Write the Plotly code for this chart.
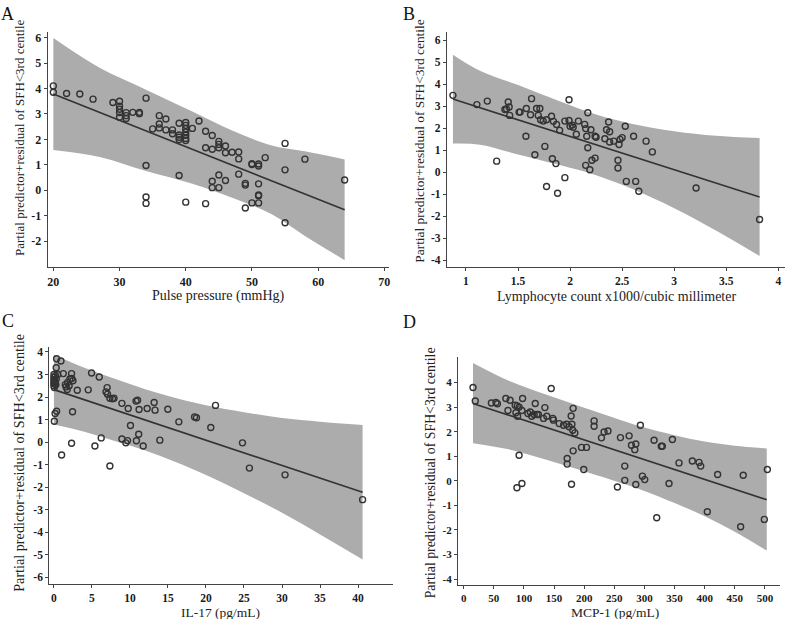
import plotly.graph_objects as go

# ---------------- data ----------------
A_points = [(20,4.1),(20,3.85),(22,3.8),(24,3.78),(26,3.58),(29,3.45),(30,3.5),(30,3.3),(30,3.18),(30,3.05),(30,2.87),
            (31,3.05),(31,2.93),(31,2.82),(32,3.06),(33,3.06),(33,3.01),(34,3.62),(34,0.97),(34,-0.27),(34,-0.52),
            (35,2.41),(36,2.93),(36,2.6),(36,2.45),(37,2.8),(37,2.37),(38,2.37),(38,2.22),(39,2.63),(39,2.17),(39,2.08),
            (39,1.99),(39,0.58),(40,2.66),(40,2.55),(40,2.42),(40,2.29),(40,2.16),(40,2.03),(40,1.95),(40,-0.47),
            (41,2.43),(42,2.72),(43,2.32),(43,1.67),(43,-0.53),(44,2.15),(44,1.61),(44,0.35),(44,0.1),(45,1.92),
            (45,1.8),(45,1.67),(45,0.6),(45,0.1),(46,1.74),(46,1.47),(46,0.38),(47,1.49),(48,1.5),(48,1.23),(48,0.63),
            (49,0.27),(49,0.2),(49,-0.7),(50,1.04),(50,1.01),(50,-0.5),(51,1.03),(51,0.95),(51,0.25),(51,-0.19),
            (51,-0.22),(51,-0.5),(52,1.28),(55,1.84),(55,0.8),(55,-1.28),(58,1.22),(64,0.4)]
A_fit_x = [20, 64]
A_fit_y = [3.78, -0.77]
A_band_x = [20, 27, 34, 41, 47, 53, 58, 64]
A_band_up = [5.98, 4.81, 3.95, 3.09, 2.35, 1.76, 1.53, 1.21]
A_band_lo = [1.58, 1.31, 0.75, 0.25, -0.30, -0.95, -1.80, -2.75]

B_points = [(0.875,3.5),(1.105,3.08),(1.205,3.24),(1.295,0.51),(1.374,2.86),(1.39,2.88),(1.406,3.2),(1.415,2.97),
            (1.42,2.59),(1.51,2.74),(1.52,2.74),(1.576,1.64),(1.58,2.9),(1.63,3.35),(1.62,2.62),(1.662,0.80),
            (1.678,2.9),(1.71,2.9),(1.694,2.59),(1.717,2.39),(1.742,2.33),(1.774,2.39),(1.758,1.18),(1.774,-0.64),
            (1.822,2.55),(1.83,0.62),(1.864,0.40),(1.84,2.32),(1.87,2.18),(1.9,1.91),(1.88,-0.95),(1.95,2.33),
            (1.95,-0.24),(1.99,2.36),(1.99,3.30),(2.0,2.1),(2.02,2.15),(2.03,2.05),(2.06,1.73),(2.08,2.33),
            (2.14,2.18),(2.15,1.99),(2.16,1.64),(2.17,2.71),(2.17,1.12),(2.15,0.32),(2.19,0.12),(2.21,0.55),
            (2.24,0.65),(2.2,1.94),(2.24,1.64),(2.25,1.6),(2.334,1.53),(2.35,1.94),(2.37,2.29),(2.38,1.85),
            (2.38,1.38),(2.42,1.42),(2.46,0.55),(2.46,0.2),(2.47,1.27),(2.48,1.5),(2.5,1.58),(2.53,2.1),
            (2.54,-0.41),(2.61,1.64),(2.63,-0.41),(2.66,-0.86),(2.73,1.42),(2.79,0.93),(3.21,-0.71),(3.82,-2.14)]
B_fit_x = [0.875, 3.82]
B_fit_y = [3.33, -1.12]
B_band_x = [0.875, 1.134, 1.5, 1.9, 2.25, 2.6, 3.0, 3.4, 3.82]
B_band_up = [5.35, 4.62, 3.97, 3.23, 2.63, 2.20, 1.87, 1.66, 1.56]
B_band_lo = [1.31, 1.26, 0.81, 0.33, -0.13, -0.76, -1.63, -2.64, -3.80]

C_points = [(0,3.0),(0,2.88),(0,2.78),(0,2.68),(0,2.6),(0,2.5),(0.05,2.42),(0.1,2.72),(0.15,2.62),(0.2,2.95),
            (0.25,2.55),(0.3,2.8),(0.05,0.93),(0.15,1.27),(0.35,1.37),(0.35,3.7),(0.3,3.3),(0.5,3.0),(0.92,3.6),
            (1.01,-0.57),(1.23,3.04),(1.5,2.55),(1.6,2.45),(1.75,2.34),(1.8,2.65),(2.0,2.5),(2.1,2.8),(2.32,3.04),
            (2.35,2.82),(2.5,2.72),(2.45,1.35),(2.32,-0.05),(3.07,2.3),(4.51,2.32),(4.95,3.07),(5.39,-0.17),
            (5.96,2.89),(6.22,0.19),(7.0,2.42),(6.85,2.23),(7.05,2.13),(7.36,-1.06),(7.36,1.95),(7.7,1.92),
            (7.9,1.95),(8.94,1.72),(9.77,1.49),(8.94,0.14),(9.46,-0.03),(9.68,0.07),(10.07,0.74),(10.8,1.82),
            (11.0,1.86),(11.2,1.45),(11.15,0.35),(10.85,0.06),(11.74,-0.17),(12.26,1.49),(13.18,1.76),(13.3,1.42),
            (13.93,0.09),(14.98,1.46),(16.43,0.9),(18.5,1.12),(18.75,1.08),(20.63,0.65),(21.25,1.63),(24.8,-0.03),
            (25.71,-1.15),(30.4,-1.45),(40.6,-2.55)]
C_fit_x = [0, 40.6]
C_fit_y = [2.33, -2.22]
C_band_x = [0, 4, 8, 12, 16, 20, 25, 30, 35, 40.6]
C_band_up = [3.88, 3.30, 2.81, 2.35, 1.96, 1.64, 1.33, 1.07, 0.91, 0.76]
C_band_lo = [0.78, 0.46, 0.05, -0.37, -0.88, -1.46, -2.27, -3.13, -4.09, -5.20]

D_points = [(15.5,3.8),(19.3,3.25),(46,3.17),(53.6,3.19),(56,3.14),(70,3.35),(77,3.28),(73.5,2.86),(85.6,3.08),
            (89,3.05),(86.7,2.77),(89.5,2.63),(92,3.0),(96.7,2.86),(97.8,3.35),(88.4,-0.28),(92,1.04),(96.7,-0.11),
            (106.6,2.74),(110.5,2.8),(113,2.63),(117,2.7),(118.8,3.15),(121.5,2.7),(124,2.7),(132.6,2.54),
            (134.8,2.98),(138,2.63),(145.3,3.76),(148,2.54),(149,2.47),(158.6,2.33),(165.7,2.26),(171,2.3),
            (175,2.2),(178.4,2.64),(179.6,2.3),(181,2.06),(181.7,2.95),(184.5,1.95),(181.7,1.22),(171.8,0.91),
            (171.8,0.68),(179,-0.14),(195.6,1.36),(203.9,1.36),(199.3,0.46),(216.5,2.44),(216.5,2.22),(228.7,1.75),
            (233,1.99),(239.5,2.03),(255.2,-0.25),(260.2,1.76),(267.4,0.6),(267.4,0.02),(274.6,1.83),(278.5,1.45),
            (284,1.27),(285.7,1.5),(285.7,-0.15),(293.3,2.26),(296.6,0.19),(300.5,0.05),(316,1.65),(320.4,-1.5),
            (328,1.41),(329.7,1.41),(340.8,-0.11),(346.4,1.68),(357.4,0.73),(379.5,0.81),(390.6,0.75),(393.4,0.6),
            (404.4,-1.26),(421.5,0.26),(459.7,-1.87),(464,0.23),(499,-1.57),(504,0.46)]
D_fit_x = [15.5, 503]
D_fit_y = [3.15, -0.77]
D_band_x = [15.5, 77, 140, 200, 260, 300, 350, 400, 450, 503]
D_band_up = [4.80, 4.05, 3.48, 2.97, 2.48, 2.17, 1.86, 1.60, 1.43, 1.32]
D_band_lo = [1.53, 1.27, 0.84, 0.39, -0.08, -0.41, -0.90, -1.44, -2.07, -2.84]

A_xticks = [20, 30, 40, 50, 60, 70]
A_yticks = [-2, -1, 0, 1, 2, 3, 4, 5, 6]
B_xticks = [1, 1.5, 2, 2.5, 3, 3.5, 4]
B_yticks = [-4, -3, -2, -1, 0, 1, 2, 3, 4, 5, 6]
C_xticks = [0, 5, 10, 15, 20, 25, 30, 35, 40]
C_yticks = [-6, -5, -4, -3, -2, -1, 0, 1, 2, 3, 4]
D_xticks = [0, 50, 100, 150, 200, 250, 300, 350, 400, 450, 500]
D_yticks = [-4, -3, -2, -1, 0, 1, 2, 3, 4]

Y_TITLE = "Partial predictor+residual of SFH<3rd centile"
X_TITLES = ["Pulse pressure (mmHg)", "Lymphocyte count x1000/cubic millimeter", "IL-17 (pg/mL)", "MCP-1 (pg/mL)"]
LETTERS = ["A", "B", "C", "D"]

# ---------------- layout constants (pixels) ----------------
W, H = 794, 619
FONT = "Liberation Serif"
BAND = "rgb(172,172,172)"
DARK = "#333333"

def px_x(p): return p / W
def px_y(p): return 1 - p / H

panels = [
    dict(pts=A_points, fx=A_fit_x, fy=A_fit_y, bx=A_band_x, bu=A_band_up, bl=A_band_lo,
         xt=A_xticks, yt=A_yticks, xr=[19.15, 70.7], yr=[-3.02, 6.22],
         dom_x=(47.7, 389), dom_y=(32, 267), tfs=12,
         ytitle=(19.5, 137.5, 13.0), xtitle=(218, 296, 14), letter=(7.5, 14)),
    dict(pts=B_points, fx=B_fit_x, fy=B_fit_y, bx=B_band_x, bu=B_band_up, bl=B_band_lo,
         xt=B_xticks, yt=B_yticks, xr=[0.818, 4.064], yr=[-4.30, 6.38],
         dom_x=(447, 785), dom_y=(32, 267), tfs=11.5,
         ytitle=(420, 141.7, 13.4), xtitle=(616, 296, 14), letter=(409, 14)),
    dict(pts=C_points, fx=C_fit_x, fy=C_fit_y, bx=C_band_x, bu=C_band_up, bl=C_band_lo,
         xt=C_xticks, yt=C_yticks, xr=[-0.61, 44.6], yr=[-6.29, 4.22],
         dom_x=(49.3, 393), dom_y=(347, 584), tfs=11.5,
         ytitle=(19.5, 463.3, 14.2), xtitle=(220, 612, 13.5), letter=(7.5, 321)),
    dict(pts=D_points, fx=D_fit_x, fy=D_fit_y, bx=D_band_x, bu=D_band_up, bl=D_band_lo,
         xt=D_xticks, yt=D_yticks, xr=[-9.4, 525], yr=[-4.24, 5.04],
         dom_x=(458, 780), dom_y=(357, 585), tfs=11,
         ytitle=(430, 473.3, 13.8), xtitle=(615, 612, 13.5), letter=(409, 322)),
]

def fmt(v):
    return "%g" % v

fig = go.Figure()
layout = dict(width=W, height=H, margin=dict(l=0, r=0, t=0, b=0),
              paper_bgcolor="white", plot_bgcolor="white", showlegend=False,
              font=dict(family=FONT, color="#222"))
annotations = []

for i, p in enumerate(panels):
    n = "" if i == 0 else str(i + 1)
    xa, ya = "x" + n, "y" + n
    # CI band
    fig.add_trace(go.Scatter(x=p["bx"], y=p["bl"], mode="lines", line=dict(width=0, shape="spline", color=BAND),
                             xaxis=xa, yaxis=ya, hoverinfo="skip"))
    fig.add_trace(go.Scatter(x=p["bx"], y=p["bu"], mode="lines", line=dict(width=0, shape="spline", color=BAND),
                             fill="tonexty", fillcolor=BAND, xaxis=xa, yaxis=ya, hoverinfo="skip"))
    # fitted line
    fig.add_trace(go.Scatter(x=p["fx"], y=p["fy"], mode="lines", line=dict(color=DARK, width=1.6),
                             xaxis=xa, yaxis=ya))
    # points
    px_, py_ = zip(*p["pts"])
    fig.add_trace(go.Scatter(x=list(px_), y=list(py_), mode="markers",
                             marker=dict(symbol="circle-open", size=6, color=DARK, line=dict(width=1.4, color=DARK)),
                             xaxis=xa, yaxis=ya))
    common = dict(showline=True, linecolor="#444", linewidth=1.2, ticks="outside", ticklen=3, tickwidth=1,
                  tickcolor="#444", showgrid=False, zeroline=False,
                  tickfont=dict(family=FONT, size=p["tfs"], color="#1a1a1a", weight="bold"))
    layout["xaxis" + n] = dict(common, domain=[px_x(p["dom_x"][0]), px_x(p["dom_x"][1])], range=p["xr"],
                               anchor=ya, tickvals=p["xt"], ticktext=[fmt(v) for v in p["xt"]])
    layout["yaxis" + n] = dict(common, domain=[px_y(p["dom_y"][1]), px_y(p["dom_y"][0])], range=p["yr"],
                               anchor=xa, tickvals=p["yt"], ticktext=[fmt(v) for v in p["yt"]])
    tx, ty, ts = p["ytitle"]
    annotations.append(dict(text=Y_TITLE, x=px_x(tx), y=px_y(ty), xref="paper", yref="paper", showarrow=False,
                            textangle=-90, xanchor="center", yanchor="middle",
                            font=dict(family=FONT, size=ts, color="#222")))
    xx, xy, xs = p["xtitle"]
    annotations.append(dict(text=X_TITLES[i], x=px_x(xx), y=px_y(xy), xref="paper",
                            yref="paper", showarrow=False, xanchor="center", yanchor="middle", borderpad=0,
                            font=dict(family=FONT, size=xs, color="#222")))
    annotations.append(dict(text=LETTERS[i], x=px_x(p["letter"][0]), y=px_y(p["letter"][1]), xref="paper",
                            yref="paper", showarrow=False, xanchor="center", yanchor="middle",
                            font=dict(family=FONT, size=18, color="#111")))

layout["annotations"] = annotations
fig.update_layout(**layout)
fig.write_html("out.html", config={"displayModeBar": False},
               post_script="document.body.style.margin='0px';document.body.style.padding='0px';"
                           "document.body.style.overflow='hidden';")
